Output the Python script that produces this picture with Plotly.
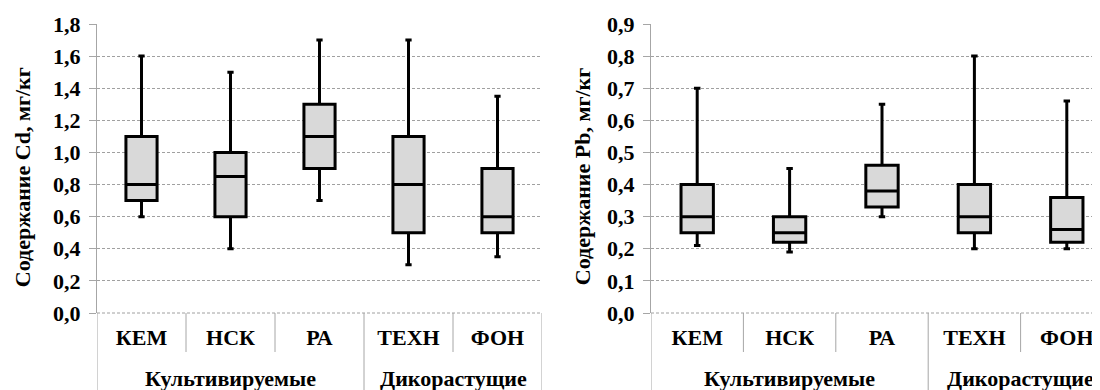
import plotly.graph_objects as go

# ---- data ----
categories = ["КЕМ", "НСК", "РА", "ТЕХН", "ФОН"]
groups = ["Культивируемые", "Культивируемые", "Культивируемые", "Дикорастущие", "Дикорастущие"]

cd_min = [0.60, 0.40, 0.70, 0.30, 0.35]
cd_q1 = [0.70, 0.60, 0.90, 0.50, 0.50]
cd_med = [0.80, 0.85, 1.10, 0.80, 0.60]
cd_q3 = [1.10, 1.00, 1.30, 1.10, 0.90]
cd_max = [1.60, 1.50, 1.70, 1.70, 1.35]

pb_min = [0.21, 0.19, 0.30, 0.20, 0.20]
pb_q1 = [0.25, 0.22, 0.33, 0.25, 0.22]
pb_med = [0.30, 0.25, 0.38, 0.30, 0.26]
pb_q3 = [0.40, 0.30, 0.46, 0.40, 0.36]
pb_max = [0.70, 0.45, 0.65, 0.80, 0.66]

y_titles = ["Содержание Cd, мг/кг", "Содержание Pb, мг/кг"]

# ---- styling ----
OFF = 8  # page body margin offset
W, H = 1100 - OFF, 390 - OFF
M_T = 24 - OFF
ZERO = 313 - OFF
M_B = H - ZERO
PLOT_H = H - M_T - M_B
FONT = "Liberation Serif"
GRID = "#a0a0a0"
LINE = "#a6a6a6"
tickfont = dict(family=FONT, size=22, color="black", weight="bold")

fig = go.Figure()

for i, (mn, q1, md, q3, mx) in enumerate([
        (cd_min, cd_q1, cd_med, cd_q3, cd_max),
        (pb_min, pb_q1, pb_med, pb_q3, pb_max)]):
    sfx = "" if i == 0 else str(i + 1)
    fig.add_trace(go.Box(
        x=categories, q1=q1, median=md, q3=q3, lowerfence=mn, upperfence=mx,
        xaxis="x" + sfx, yaxis="y" + sfx,
        fillcolor="#d9d9d9", line=dict(color="black", width=3),
        whiskerwidth=0.2, boxpoints=False, showlegend=False,
    ))

left_dom = [(97 - OFF) / W, (542 - OFF) / W]
right_px0 = 651 - OFF
right_cat = 92.4
right_dom = [right_px0 / W, 1.0]
right_range = [-0.5, -0.5 + (W - right_px0) / right_cat]

common_x = dict(type="category", categoryorder="array", categoryarray=categories,
                showline=False, showgrid=False, ticks="", zeroline=False,
                tickfont=tickfont, ticklabelstandoff=9, fixedrange=True)
common_y = dict(showline=True, linecolor=LINE, linewidth=1, ticks="outside",
                ticklen=7, tickcolor=LINE, tickwidth=1, showgrid=True,
                gridcolor=GRID, griddash="3px,2px", gridwidth=1, zeroline=False,
                tickformat=".1f", tickfont=tickfont, ticklabelstandoff=4)

fig.update_layout(
    template="none",
    font=dict(family=FONT, size=21, color="black"),
    width=W, height=H, margin=dict(l=0, r=0, t=M_T, b=M_B),
    paper_bgcolor="white", plot_bgcolor="white", showlegend=False,
    separators=", ", boxgap=0.5,
    xaxis=dict(domain=left_dom, range=[-0.5, 4.5], anchor="y", **common_x),
    yaxis=dict(range=[0, 1.8], dtick=0.2, anchor="x", **common_y),
    xaxis2=dict(domain=right_dom, range=right_range, anchor="y2", **common_x),
    yaxis2=dict(range=[0, 0.9], dtick=0.1, anchor="x2", **common_y),
)

# dividers / group labels / titles
shapes = []
annotations = []
inner_len = 39 / PLOT_H
full_len = M_B / PLOT_H
for ax_i, (xr, dom) in enumerate([("x", left_dom), ("x2", right_dom)]):
    yr = "y domain" if ax_i == 0 else "y2 domain"
    n = len(categories)
    for b in range(n + 1):
        pos = b - 0.5
        if b == 0 or b == n or groups[b] != groups[b - 1]:
            y0 = -full_len
        else:
            y0 = -inner_len
        if ax_i == 1 and b == n:
            continue
        shapes.append(dict(type="line", xref=xr, yref=yr, x0=pos, x1=pos,
                           y0=y0, y1=0, line=dict(color=LINE, width=1)))
    shapes.append(dict(type="line", xref=xr + " domain", yref=yr, x0=0, x1=1,
                       y0=0, y1=0, line=dict(color=GRID, width=1, dash="3px,2px")))
    seen = []
    for g in groups:
        if g not in seen:
            seen.append(g)
    for g in seen:
        idx = [k for k, gg in enumerate(groups) if gg == g]
        annotations.append(dict(text="<b>" + g + "</b>", xref=xr, yref=yr, x=sum(idx) / len(idx),
                                y=-(378 - 313) / PLOT_H, showarrow=False,
                                xanchor="center", yanchor="middle",
                                font=dict(family=FONT, size=22, color="black")))

title_x = [22 - OFF, 582 - OFF]
for t, tx in zip(y_titles, title_x):
    annotations.append(dict(text="<b>" + t + "</b>", xref="paper", yref="paper", x=tx / W, y=0.47,
                            textangle=-90, showarrow=False, xanchor="center",
                            yanchor="middle",
                            font=dict(family=FONT, size=22, color="black")))

fig.update_layout(shapes=shapes, annotations=annotations)
fig.write_html("out.html")
